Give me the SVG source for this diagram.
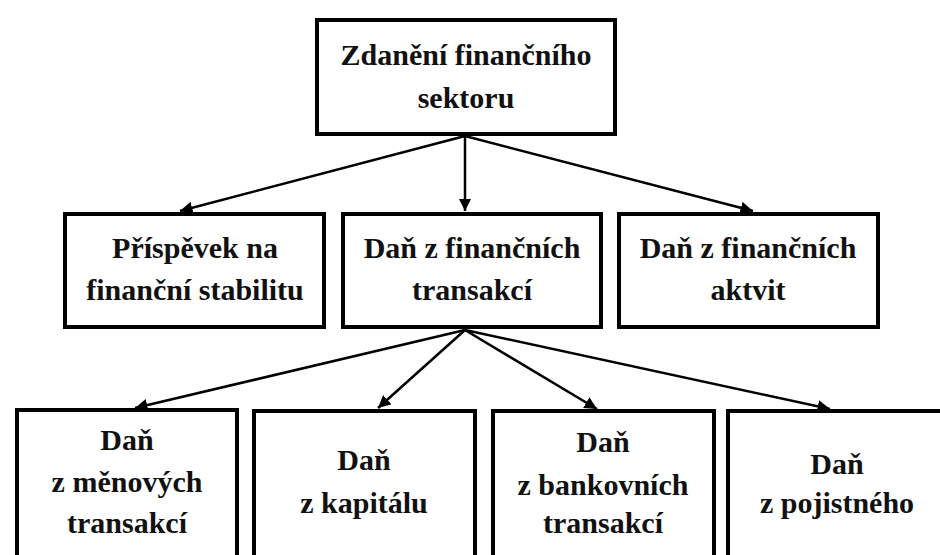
<svg xmlns="http://www.w3.org/2000/svg" width="940" height="555" viewBox="0 0 940 555">
<style>
.box{fill:#fff;stroke:#000;stroke-width:4}
.t{font-family:'Liberation Serif','Times New Roman',serif;font-weight:700;font-size:30px;text-anchor:middle;fill:#111}
.c{stroke:#000;stroke-width:2.5;fill:none;marker-end:url(#ah)}
</style>
<defs>
<marker id="ah" viewBox="0 0 10 10" refX="10" refY="5" markerWidth="5" markerHeight="5" markerUnits="strokeWidth" orient="auto">
<path d="M0,0 L10,5 L0,10 z" fill="#000"/>
</marker>
</defs>
<rect width="940" height="555" fill="#fff"/>
<g id="connectors">
<line class="c" x1="465" y1="136" x2="180" y2="211"/>
<line class="c" x1="465" y1="136" x2="465" y2="211"/>
<line class="c" x1="465" y1="136" x2="753" y2="211"/>
<line class="c" x1="465" y1="330" x2="135" y2="408"/>
<line class="c" x1="465" y1="330" x2="378" y2="408"/>
<line class="c" x1="465" y1="330" x2="597" y2="409"/>
<line class="c" x1="465" y1="330" x2="830" y2="409"/>
</g>
<g id="root">
<rect class="box" x="317" y="20" width="298" height="114"/>
<text class="t" x="466" y="65">Zdanění finančního</text>
<text class="t" x="466" y="108">sektoru</text>
</g>
<g id="prispevek">
<rect class="box" x="65" y="214" width="259" height="113"/>
<text class="t" x="195" y="258">Příspěvek na</text>
<text class="t" x="195" y="300">finanční stabilitu</text>
</g>
<g id="dan-transakce">
<rect class="box" x="343" y="214" width="258" height="113"/>
<text class="t" x="472" y="258">Daň z finančních</text>
<text class="t" x="472" y="300">transakcí</text>
</g>
<g id="dan-aktivity">
<rect class="box" x="619" y="214" width="259" height="113"/>
<text class="t" x="748" y="258">Daň z finančních</text>
<text class="t" x="748" y="300">aktvit</text>
</g>
<g id="dan-menove">
<rect class="box" x="17" y="410" width="220" height="170"/>
<text class="t" x="127" y="450">Daň</text>
<text class="t" x="127" y="492">z měnových</text>
<text class="t" x="127" y="533">transakcí</text>
</g>
<g id="dan-kapital">
<rect class="box" x="254" y="411" width="221" height="170"/>
<text class="t" x="364" y="470">Daň</text>
<text class="t" x="364" y="513">z kapitálu</text>
</g>
<g id="dan-bankovni">
<rect class="box" x="493" y="411" width="221" height="170"/>
<text class="t" x="603" y="452">Daň</text>
<text class="t" x="603" y="495">z bankovních</text>
<text class="t" x="603" y="533">transakcí</text>
</g>
<g id="dan-pojistne">
<rect class="box" x="728" y="411" width="222" height="170"/>
<text class="t" x="837" y="474">Daň</text>
<text class="t" x="837" y="513">z pojistného</text>
</g>
</svg>
